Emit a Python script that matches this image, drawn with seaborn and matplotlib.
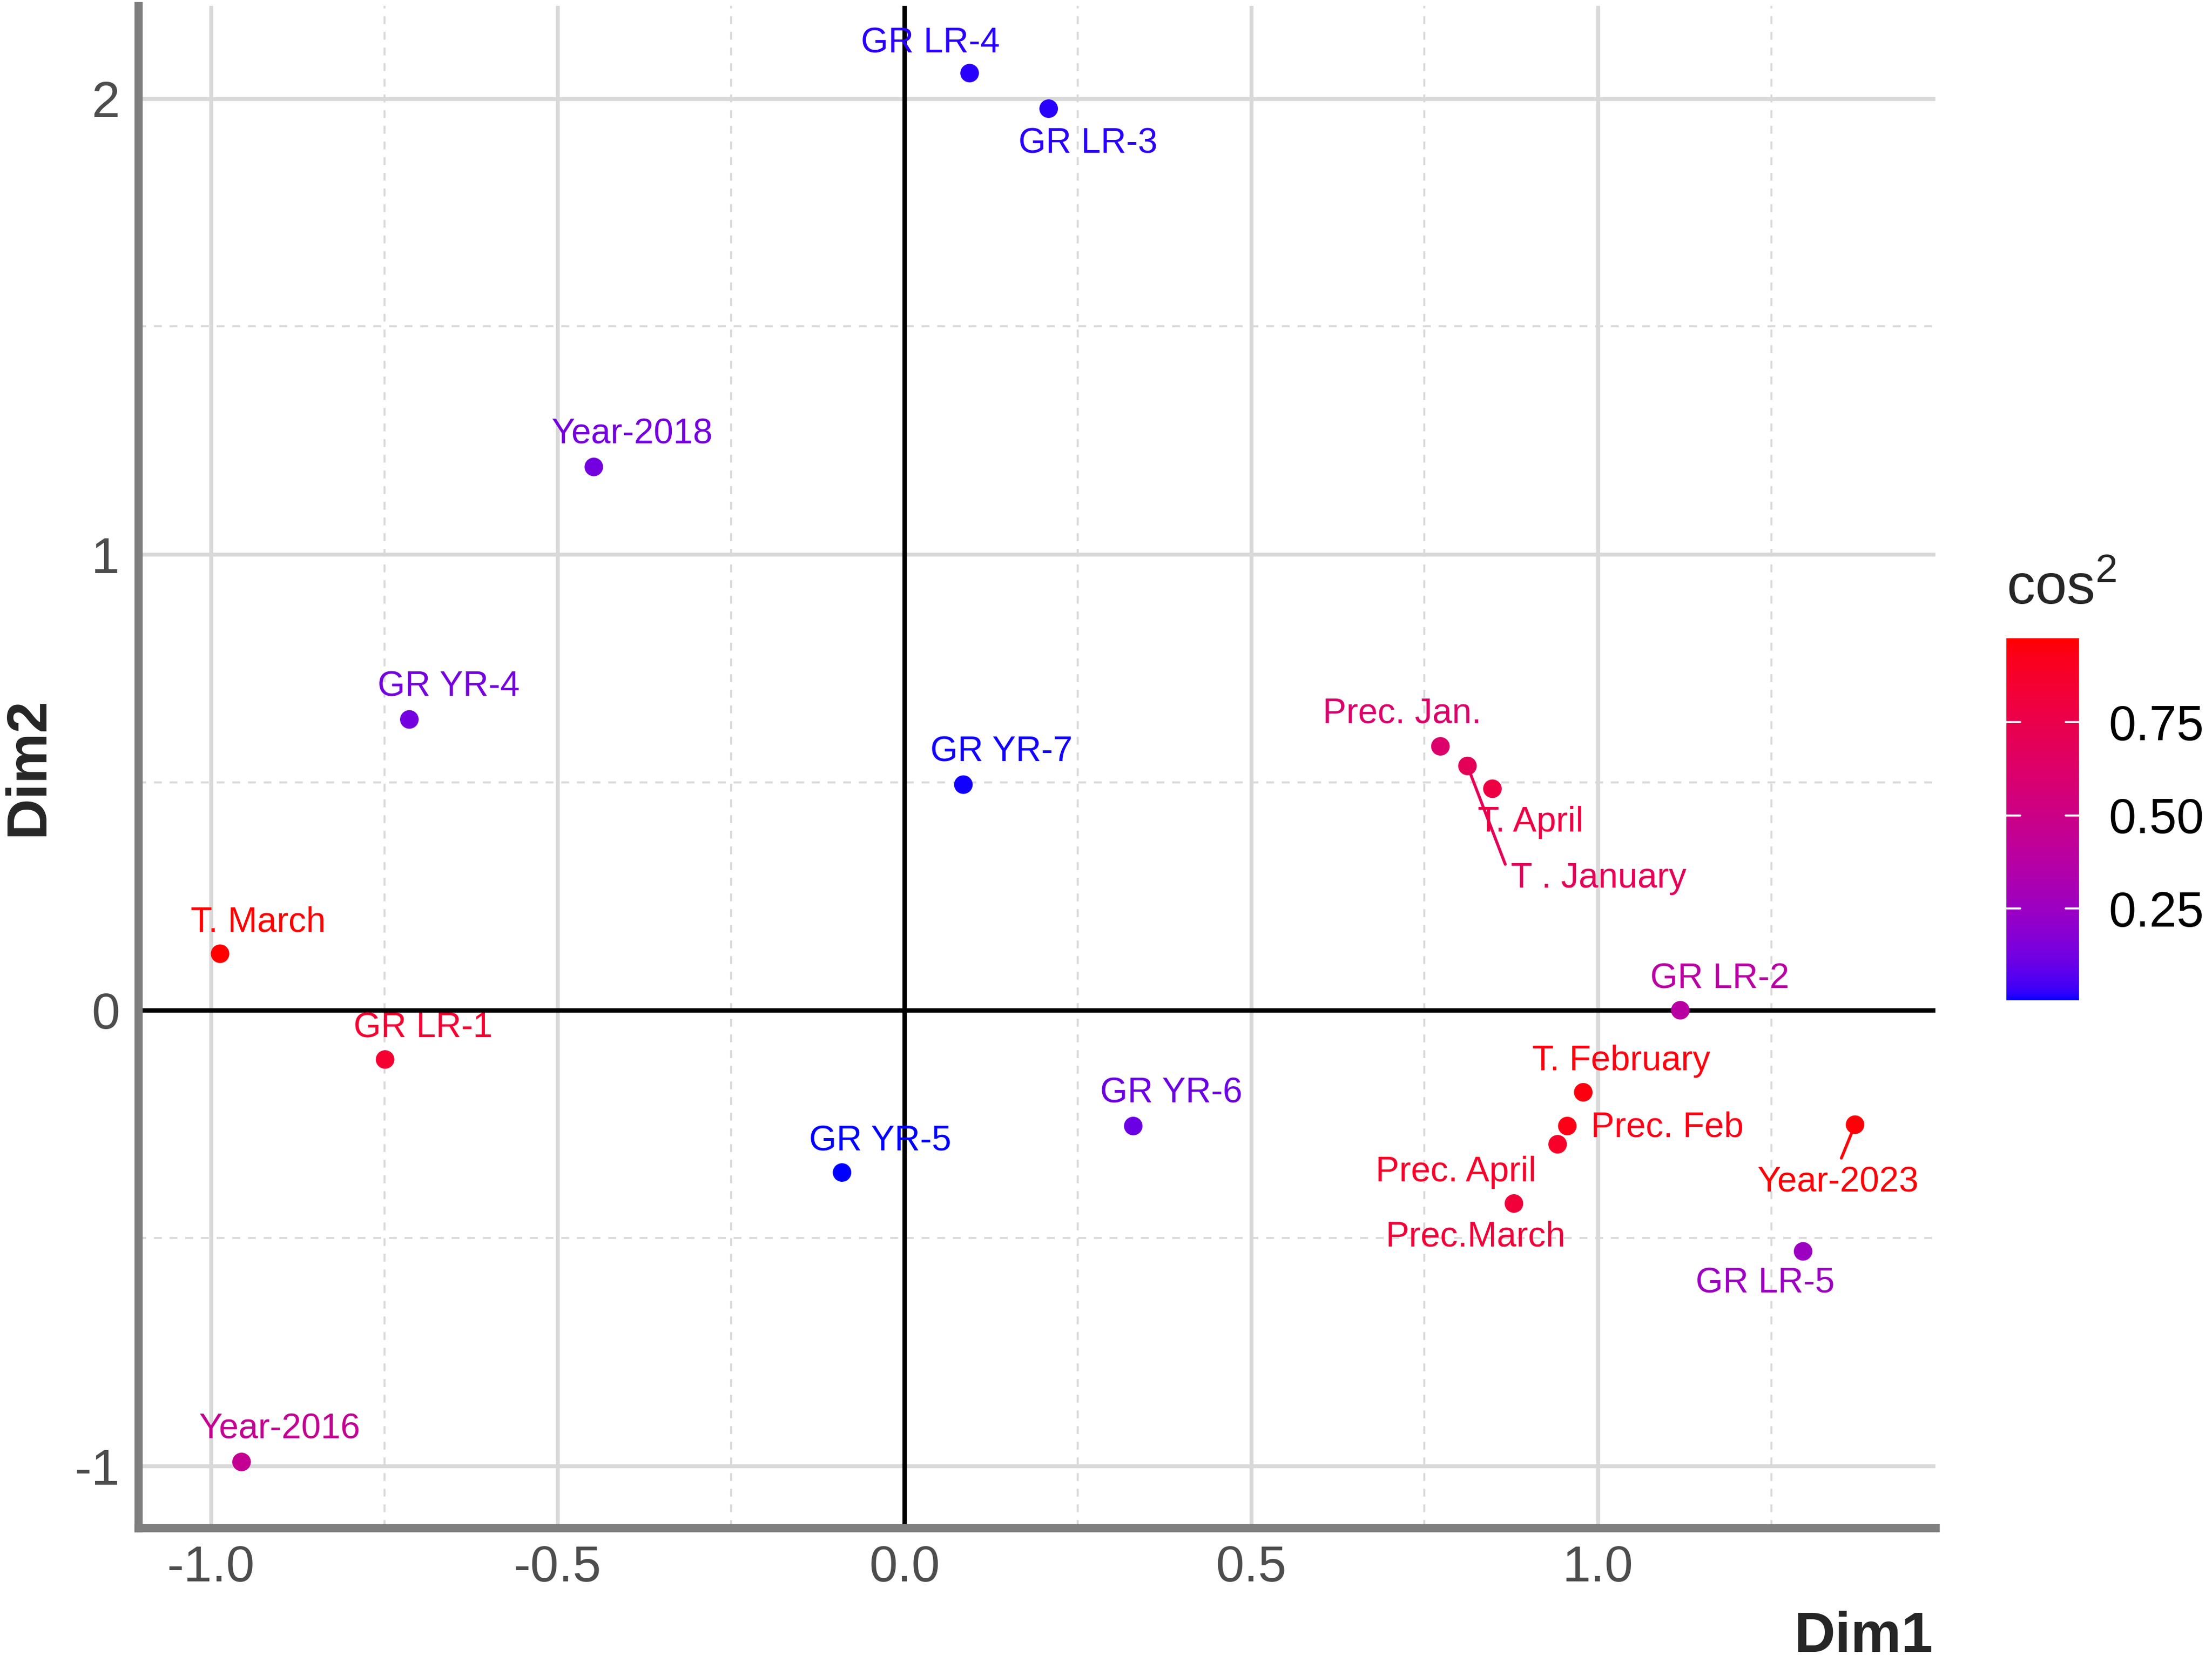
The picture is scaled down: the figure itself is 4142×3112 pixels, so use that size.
import numpy as np
import pandas as pd
import matplotlib
matplotlib.use("Agg")
import matplotlib.pyplot as plt
import seaborn as sns
from matplotlib.colors import ListedColormap, Normalize
from matplotlib.cm import ScalarMappable


labels = [
    "GR LR-4", "GR LR-3", "Year-2018", "GR YR-4", "GR YR-7",
    "Prec. Jan.", "T . January", "T. April", "T. March", "GR LR-2",
    "GR LR-1", "T. February", "Prec. Feb", "Prec. April", "Prec.March",
    "GR YR-6", "GR YR-5", "Year-2023", "GR LR-5", "Year-2016",
]

dim1 = [
    0.094, 0.208, -0.448, -0.714, 0.085,
    0.773, 0.812, 0.848, -0.987, 1.119,
    -0.749, 0.979, 0.956, 0.942, 0.879,
    0.330, -0.090, 1.371, 1.296, -0.956,
]

dim2 = [
    2.056, 1.978, 1.192, 0.638, 0.495,
    0.579, 0.536, 0.486, 0.124, 0.000,
    -0.108, -0.180, -0.254, -0.294, -0.424,
    -0.254, -0.356, -0.251, -0.529, -0.991,
]

cos2 = [
    0.02, 0.02, 0.13, 0.13, 0.01,
    0.62, 0.70, 0.78, 0.975, 0.38,
    0.85, 0.95, 0.93, 0.88, 0.82,
    0.11, 0.003, 0.96, 0.25, 0.45,
]

cbar_ticks = [0.25, 0.50, 0.75]

# label offsets in reference pixels (text centre minus point)
offsets = {
    "GR LR-4": (-28, 21), "GR LR-3": (28, -25), "Year-2018": (27, 23),
    "GR YR-4": (28, 23), "GR YR-7": (27, 23), "Prec. Jan.": (-27, 23),
    "T . January": (93, -80), "T. April": (27, -24), "T. March": (27, 22),
    "GR LR-2": (28, 22), "GR LR-1": (27, 22), "T. February": (27, 22),
    "Prec. Feb": (71, -1), "Prec. April": (-72, -20),
    "Prec.March": (-27, -24), "GR YR-6": (27, 23), "GR YR-5": (27, 22),
    "Year-2023": (-12, -41), "GR LR-5": (-27, -23), "Year-2016": (27, 23),
}
segments = {"T . January": (0.0, 0.5), "Year-2023": (0.5, 1.0)}
PX = 0.7204  # reference px -> points


def srgb_to_lab(rgb):
    rgb = np.asarray(rgb, float)
    lin = np.where(rgb <= 0.04045, rgb / 12.92, ((rgb + 0.055) / 1.055) ** 2.4)
    m = np.array([[0.4124, 0.3576, 0.1805],
                  [0.2126, 0.7152, 0.0722],
                  [0.0193, 0.1192, 0.9505]])
    xyz = m @ lin / np.array([0.95047, 1.0, 1.08883])
    f = np.where(xyz > 0.008856, np.cbrt(xyz), 7.787 * xyz + 16 / 116)
    return np.array([116 * f[1] - 16, 500 * (f[0] - f[1]), 200 * (f[1] - f[2])])


def lab_to_srgb(lab):
    L, a, b = lab
    fy = (L + 16) / 116
    fx = fy + a / 500
    fz = fy - b / 200
    f = np.array([fx, fy, fz])
    xyz = np.where(f ** 3 > 0.008856, f ** 3, (f - 16 / 116) / 7.787)
    xyz = xyz * np.array([0.95047, 1.0, 1.08883])
    m = np.array([[3.2406, -1.5372, -0.4986],
                  [-0.9689, 1.8758, 0.0415],
                  [0.0557, -0.2040, 1.0570]])
    lin = np.clip(m @ xyz, 0, 1)
    rgb = np.where(lin <= 0.0031308, 12.92 * lin, 1.055 * lin ** (1 / 2.4) - 0.055)
    return np.clip(rgb, 0, 1)


lab_lo = srgb_to_lab([0, 0, 1])
lab_hi = srgb_to_lab([1, 0, 0])
cmap = ListedColormap(
    [lab_to_srgb(lab_lo + (lab_hi - lab_lo) * t) for t in np.linspace(0, 1, 256)]
)

df = pd.DataFrame({"label": labels, "dim1": dim1, "dim2": dim2, "cos2": cos2})
norm = Normalize(vmin=min(cos2), vmax=max(cos2))

sns.set_style("white")
plt.rcParams["font.family"] = ["Liberation Sans", "DejaVu Sans"]

fig = plt.figure(figsize=(4142 / 264, 3112 / 264), dpi=264)
ax = fig.add_axes([0.0625, 0.0806, 0.8125, 0.916])

ax.set_xlim(-1.105, 1.487)
ax.set_ylim(-1.136, 2.204)

grid_col = "#D9D9D9"
for v in [-0.75, -0.25, 0.25, 0.75, 1.25]:
    ax.axvline(v, color=grid_col, lw=1.0, ls=(0, (4, 4)), zorder=0)
for v in [-0.5, 0.5, 1.5]:
    ax.axhline(v, color=grid_col, lw=1.0, ls=(0, (4, 4)), zorder=0)
for v in [-1.0, -0.5, 0.5, 1.0]:
    ax.axvline(v, color=grid_col, lw=2.0, zorder=0)
for v in [-1, 1, 2]:
    ax.axhline(v, color=grid_col, lw=2.0, zorder=0)

ax.axhline(0, color="black", lw=2.3, zorder=1)
ax.axvline(0, color="black", lw=2.3, zorder=1)

sns.scatterplot(
    data=df, x="dim1", y="dim2", hue="cos2",
    palette=cmap, hue_norm=norm, legend=False,
    s=90, edgecolor="none", ax=ax, zorder=3,
)

for lab, x, y, c in zip(labels, dim1, dim2, cos2):
    col = cmap(norm(c))
    dx, dy = offsets[lab]
    kw = {}
    if lab in segments:
        kw["arrowprops"] = dict(
            arrowstyle="-", color=col, lw=1.5,
            shrinkA=2, shrinkB=4, relpos=segments[lab],
        )
    ax.annotate(
        lab, (x, y), xytext=(dx * PX, dy * PX), textcoords="offset points",
        ha="center", va="center", color=col, fontsize=18, zorder=4, **kw,
    )

ax.set_xticks([-1.0, -0.5, 0.0, 0.5, 1.0])
ax.set_xticklabels(["-1.0", "-0.5", "0.0", "0.5", "1.0"])
ax.set_yticks([-1, 0, 1, 2])
ax.set_yticklabels(["-1", "0", "1", "2"])
ax.tick_params(
    axis="both", labelsize=26, labelcolor="#4D4D4D", color="#333333",
    length=5.5, width=1.4, direction="out",
)
ax.tick_params(axis="x", pad=3)
ax.tick_params(axis="y", pad=4)

for side in ["top", "right"]:
    ax.spines[side].set_visible(False)
for side in ["left", "bottom"]:
    ax.spines[side].set_color("#7F7F7F")
    ax.spines[side].set_linewidth(4.2)
    ax.spines[side].set_zorder(5)

ax.set_xlabel("")
ax.set_ylabel("")
fig.text(0.874, 0.006, "Dim1", ha="right", va="baseline",
         fontsize=29, fontweight="bold")
fig.text(0.013, 0.539, "Dim2", ha="center", va="center", rotation=90,
         fontsize=29, fontweight="bold")

cax = fig.add_axes([0.907, 0.398, 0.033, 0.218])
cb = fig.colorbar(ScalarMappable(norm=norm, cmap=cmap), cax=cax, ticks=cbar_ticks)
cb.ax.set_yticklabels(["0.25", "0.50", "0.75"])
cb.outline.set_visible(False)
cb.ax.tick_params(labelsize=25, length=0, pad=15, labelcolor="black")
for t in cbar_ticks:
    cb.ax.plot([0, 0.19], [t, t], color="white", lw=1.0)
    cb.ax.plot([0.81, 1.0], [t, t], color="white", lw=1.0)
fig.text(0.907, 0.6366, r"$\mathregular{cos^2}$", ha="left", va="baseline",
         fontsize=29)

fig.savefig("out.png", dpi=264)
